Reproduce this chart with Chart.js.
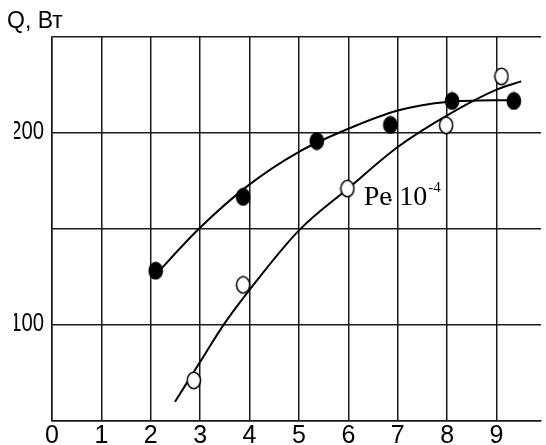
<!DOCTYPE html>
<html>
<head>
<meta charset="utf-8">
<script src="https://cdn.jsdelivr.net/npm/chart.js@4.4.0/dist/chart.umd.min.js"></script>
<style>
  html, body { margin: 0; padding: 0; background: #fff; }
  canvas { display: block; }
</style>
</head>
<body>
<canvas id="chart" width="546" height="445"></canvas>
<script>
// measured points (filled and open circles)
const filledX = [2.1, 3.87, 5.36, 6.85, 8.1, 9.35];
const filledQ = [128, 166.5, 195.6, 204, 216.5, 216.5];
const openX = [2.87, 3.87, 5.98, 7.98, 9.1];
const openQ = [70.8, 120.6, 170.8, 203.8, 229.3];

// traced fitting curves
const filledCurveX = [2.03, 3, 4, 5, 6, 7, 8, 9.35];
const filledCurveQ = [124, 150.5, 173, 190, 202, 211.5, 216, 217];
const openCurveX = [2.49, 3, 3.48, 4, 5, 6, 7, 8, 9, 9.5];
const openCurveQ = [59.7, 80.5, 100, 118, 149, 171, 192.5, 209, 222.4, 226.7];

// axes
const xTicks = [0, 1, 2, 3, 4, 5, 6, 7, 8, 9];
const yTicks = [50, 100, 150, 200, 250];
const yLabels = ['', '100', '', '200', ''];

const toPoints = (xs, ys) => xs.map((x, i) => ({ x: x, y: ys[i] }));

const sans = '"Liberation Sans", Arial, sans-serif';
const serif = '"Liberation Serif", "Times New Roman", serif';
const yPad = 8;

function ellipseMarker(fill) {
    const c = document.createElement('canvas');
    c.width = 16;
    c.height = 19;
    const g = c.getContext('2d');
    g.beginPath();
    g.ellipse(8, 9.5, 6.6, 8.2, 0, 0, Math.PI * 2);
    g.fillStyle = fill;
    g.fill();
    g.lineWidth = 1.5;
    g.strokeStyle = '#000';
    g.stroke();
    return c;
}

// the y labels in the original are a condensed face: squeeze them around their right edge
const narrowY = {
    id: 'narrowY',
    beforeDraw(chart) {
        const s = chart.scales.y;
        if (s._narrow) return;
        const orig = s.drawLabels;
        s.drawLabels = function (area) {
            const ax = this.right - yPad;
            this.ctx.save();
            this.ctx.translate(ax, 0);
            this.ctx.scale(0.81, 1);
            this.ctx.translate(-ax, 0);
            orig.call(this, area);
            this.ctx.restore();
        };
        s._narrow = true;
    }
};

const labelPlugin = {
    id: 'peLabel',
    afterDatasetsDraw(chart) {
        const ctx = chart.ctx;
        const x = chart.scales.x.getPixelForValue(6.32);
        const y = chart.scales.y.getPixelForValue(162.1);
        ctx.save();
        ctx.fillStyle = '#000';
        ctx.textBaseline = 'alphabetic';
        ctx.textAlign = 'left';
        ctx.font = '28px ' + serif;
        ctx.fillText('Pe', x - 0.5, y);
        ctx.fillText('10', x + 35, y);
        ctx.beginPath();
        ctx.arc(x + 26, y - 5.3, 1.5, 0, Math.PI * 2);
        ctx.fill();
        ctx.font = '15px ' + serif;
        ctx.fillText('-4', x + 64, y - 13.3);
        ctx.restore();
    }
};

const gridStyle = { color: '#1a1a1a', lineWidth: 1.5, drawTicks: false };

new Chart(document.getElementById('chart'), {
    type: 'scatter',
    data: {
        datasets: [
            {
                data: toPoints(filledX, filledQ),
                pointStyle: ellipseMarker('#000'),
                showLine: false,
                order: 1
            },
            {
                data: toPoints(openX, openQ),
                pointStyle: ellipseMarker('#fff'),
                showLine: false,
                order: 1
            },
            {
                data: toPoints(filledCurveX, filledCurveQ),
                showLine: true,
                pointRadius: 0,
                borderColor: '#000',
                borderWidth: 2,
                cubicInterpolationMode: 'monotone',
                order: 2
            },
            {
                data: toPoints(openCurveX, openCurveQ),
                showLine: true,
                pointRadius: 0,
                borderColor: '#000',
                borderWidth: 2,
                cubicInterpolationMode: 'monotone',
                order: 2
            }
        ]
    },
    options: {
        responsive: false,
        animation: false,
        layout: { padding: { left: 7, right: 0, top: 0, bottom: 0 } },
        plugins: {
            legend: { display: false },
            tooltip: { enabled: false },
            title: {
                display: true,
                text: 'Q, Вт',
                align: 'start',
                color: '#000',
                font: { family: sans, size: 23, weight: 'normal', lineHeight: 1.2 },
                padding: { top: 7.5, bottom: 1.6 }
            }
        },
        scales: {
            x: {
                type: 'linear',
                min: 0,
                max: 9.9,
                grid: gridStyle,
                border: { color: '#1a1a1a', width: 1.5 },
                ticks: { color: '#000', font: { family: sans, size: 25 }, padding: 1 },
                afterBuildTicks: scale => { scale.ticks = xTicks.map(v => ({ value: v })); },
                afterFit: scale => { scale.height = 24.7; }
            },
            y: {
                type: 'linear',
                min: 50,
                max: 250,
                grid: gridStyle,
                border: { color: '#1a1a1a', width: 1.5 },
                ticks: {
                    color: '#000',
                    font: { family: sans, size: 25 },
                    padding: yPad,
                    callback: value => yLabels[yTicks.indexOf(value)]
                },
                afterBuildTicks: scale => { scale.ticks = yTicks.map(v => ({ value: v })); },
                afterFit: scale => { scale.width = 45; }
            }
        }
    },
    plugins: [narrowY, labelPlugin]
});
</script>
</body>
</html>
